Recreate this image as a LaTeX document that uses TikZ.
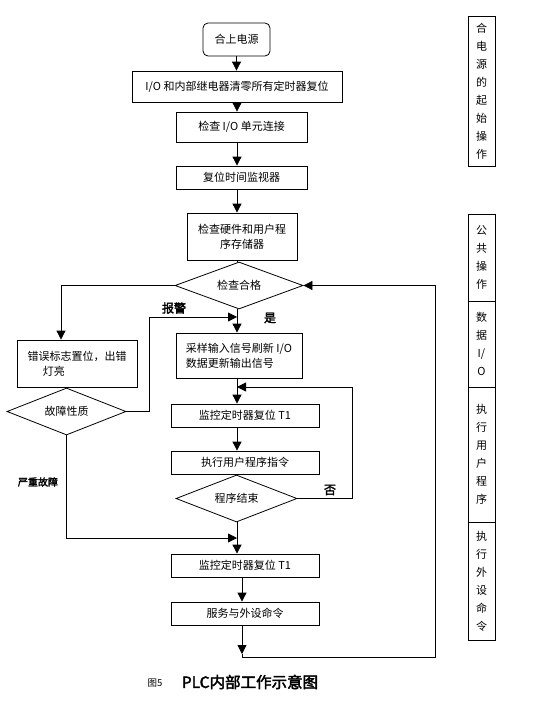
\documentclass[tikz,border=0pt]{standalone}
\usepackage{fontspec}
\setmainfont{Noto Sans CJK SC}
\newfontfamily\cjkbold[FakeBold=2.5]{Noto Sans CJK SC}
\usetikzlibrary{arrows.meta,shapes.geometric}
\tikzset{
  box/.style={draw, rectangle, line width=0.8pt, inner sep=0pt, font=\fontsize{11}{15}\selectfont},
  dia/.style={draw, diamond, line width=0.8pt, inner sep=0pt, aspect=2.7, font=\fontsize{11}{15}\selectfont},
  side/.style={draw, rectangle, line width=0.8pt, inner sep=0pt, minimum width=27pt, align=center, font=\fontsize{11}{18}\selectfont},
  arr/.style={line width=0.8pt, -{Triangle[width=9pt,length=9pt]}},
  ln/.style={line width=0.8pt},
  lbl/.style={font=\cjkbold\fontsize{12}{14}\selectfont, inner sep=0pt}
}
\begin{document}
\begin{tikzpicture}[x=1pt,y=-1pt]
\useasboundingbox (0,0) rectangle (554,704);
% main flow
\node[box, rounded corners=5pt, minimum width=67pt, minimum height=33pt] (n1) at (236.5,39.5) {合上电源};
\node[box, minimum width=210pt, minimum height=31pt] (n2) at (237,86.5) {I/O 和内部继电器清零所有定时器复位};
\node[box, minimum width=131pt, minimum height=30pt] (n3) at (241.5,127) {检查 I/O 单元连接};
\node[box, minimum width=131pt, minimum height=23pt] (n4) at (241.5,177.5) {复位时间监视器};
\node[box, minimum width=110pt, minimum height=47pt, align=center] (n5) at (242,236.5) {检查硬件和用户程\\序存储器};
\node[dia, minimum width=128pt, minimum height=47pt] (d1) at (239,285.5) {检查合格};
\node[box, minimum width=120pt, minimum height=47pt, align=left] (e1) at (77,363.5) {错误标志置位，出错\\\hspace{1.4em}灯亮};
\node[dia, minimum width=119pt, minimum height=47pt] (d2) at (66.5,411.5) {故障性质};
\node[box, minimum width=126pt, minimum height=45pt, align=left] (s1) at (239,355.5) {采样输入信号刷新 I/O\\数据更新输出信号};
\node[box, minimum width=148pt, minimum height=23pt] (t1) at (245,415.5) {监控定时器复位 T1};
\node[box, minimum width=148pt, minimum height=23pt] (u1) at (245,462.5) {执行用户程序指令};
\node[dia, minimum width=121pt, minimum height=47pt] (d3) at (236.5,498.5) {程序结束};
\node[box, minimum width=148pt, minimum height=23pt] (t2) at (245,565.5) {监控定时器复位 T1};
\node[box, minimum width=148pt, minimum height=23pt] (v1) at (245,613.5) {服务与外设命令};
% labels
\node[lbl] (lb1) at (174,308) {报警};
\node[lbl] (lb2) at (270,318) {是};
\node[lbl] (lb3) at (330,490) {否};
\node[lbl, font=\cjkbold\fontsize{10}{12}\selectfont] (lb4) at (38,482) {严重故障};
% side column
\node[side, minimum height=150pt] (r1) at (481.5,91) {合\\电\\源\\的\\起\\始\\操\\作};
\node[side, minimum height=87pt] (r2) at (481.5,257.5) {公\\共\\操\\作};
\node[side, minimum height=86pt] (r3) at (481.5,344) {数\\据\\I/\\O};
\node[side, minimum height=135pt] (r4) at (481.5,454.5) {执\\行\\用\\户\\程\\序};
\node[side, minimum height=118pt] (r5) at (481.5,581) {执\\行\\外\\设\\命\\令};
% caption
\node[inner sep=0pt, font=\fontsize{9.5}{11}\selectfont] (c1) at (155,683) {图5};
\node[inner sep=0pt, font=\cjkbold\fontsize{15.5}{17}\selectfont] (c2) at (250,682) {PLC内部工作示意图};
% coordinates
\coordinate (mx) at (237,0);
\coordinate (lx) at (242,0);
\coordinate (ex) at (61,0);
\coordinate (k1) at (149,317);
\coordinate (j1) at (237,317);
\coordinate (k2) at (352,387);
\coordinate (j2) at (237,387);
\coordinate (j3) at (237,538);
\coordinate (j4) at (242,654);
\coordinate (j5) at (242,657);
\coordinate (k3) at (435,0);
% connectors
\draw[arr] (n1.south) -- (n1.south |- n2.north);
\draw[arr] (n2.south -| mx) -- (n3.north -| mx);
\draw[arr] (n3.south -| mx) -- (n4.north -| mx);
\draw[arr] (n4.south -| mx) -- (n5.north -| mx);
\draw[ln] (n5.south -| mx) -- (d1.north -| mx);
\draw[arr] (d1.west) -| (e1.north -| ex);
\draw[arr] (d2.east) -| (k1) -- (j1);
\draw[arr] (d1.south -| mx) -- (s1.north -| mx);
\draw[arr] (s1.south -| mx) -- (t1.north -| mx);
\draw[arr] (d3.east) -| (k2) -- (j2);
\draw[arr] (t1.south -| mx) -- (u1.north -| mx);
\draw[arr] (d3.south -| mx) -- (t2.north -| mx);
\draw[arr] (d2.south) |- (j3);
\draw[arr] (t2.south -| lx) -- (v1.north -| lx);
\draw[arr] (v1.south -| lx) -- (j4);
\draw[ln] (j4) -- (j5);
\draw[arr] (j5) -- (j5 -| k3) |- (d1.east);
\end{tikzpicture}
\end{document}
